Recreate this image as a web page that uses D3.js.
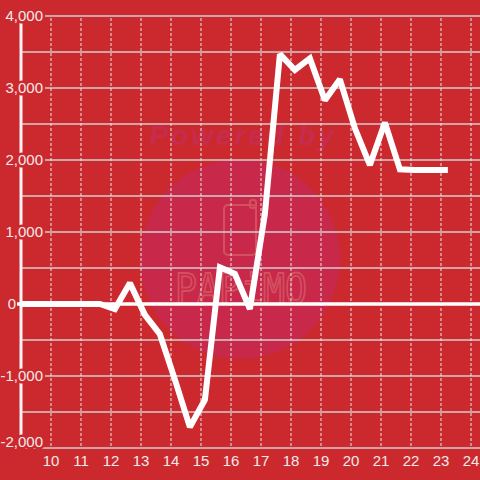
<!DOCTYPE html>
<html><head><meta charset="utf-8">
<script src="https://cdn.jsdelivr.net/npm/d3@7"></script>
<style>html,body{margin:0;padding:0;background:#cc292e;} svg{display:block}</style>
</head><body>
<script>
const hours = [9.13, 9.63, 10.13, 10.63, 11.13, 11.63, 12.13, 12.63, 13.13, 13.63, 14.13, 14.63, 15.13, 15.63, 16.13, 16.63, 17.13, 17.63, 18.13, 18.63, 19.13, 19.63, 20.13, 20.63, 21.13, 21.63, 22.13, 22.63, 23.13];
const values = [0, 0, 0, 0, 0, 0, -70, 290, -150, -420, -1050, -1710, -1330, 510, 420, -70, 1250, 3470, 3250, 3410, 2830, 3120, 2440, 1930, 2520, 1870, 1860, 1860, 1860];
const xTicks = [10, 11, 12, 13, 14, 15, 16, 17, 18, 19, 20, 21, 22, 23, 24];
const yTicks = [-2000, -1000, 1000, 2000, 3000, 4000];
const yGrid = [-2000, -1500, -1000, -500, 0, 500, 1000, 1500, 2000, 2500, 3000, 3500, 4000];

const W = 480, H = 480;
const bg = "#cc292e";
const svg = d3.select("body").append("svg").attr("width", W).attr("height", H);
svg.append("rect").attr("width", W).attr("height", H).attr("fill", bg);

const x = d3.scaleLinear().domain([9, 24.3]).range([21, 480]);
const y = d3.scaleLinear().domain([-2000, 4000]).range([448, 16]);

// watermark
const wm = svg.append("g");
wm.append("text").attr("x", 243).attr("y", 145).attr("text-anchor", "middle")
  .attr("font-family", "Liberation Sans, Arial, sans-serif").attr("font-weight", "bold")
  .attr("font-style", "italic").attr("font-size", 28).attr("letter-spacing", 3)
  .attr("fill", "#c62c4e").text("Powered by");
wm.append("circle").attr("cx", 240).attr("cy", 259).attr("r", 100).attr("fill", "#c8284a");
wm.append("rect").attr("x", 224).attr("y", 205).attr("width", 32).attr("height", 50).attr("rx", 4)
  .attr("fill", "none").attr("stroke", "#d4505f").attr("stroke-width", 2);
wm.append("rect").attr("x", 250).attr("y", 200).attr("width", 6).attr("height", 8).attr("rx", 2)
  .attr("fill", "none").attr("stroke", "#d4505f").attr("stroke-width", 2);
wm.append("text").attr("x", 241).attr("y", 303).attr("text-anchor", "middle")
  .attr("font-family", "DejaVu Sans Mono, monospace").attr("font-size", 40)
  .attr("textLength", 132).attr("lengthAdjust", "spacingAndGlyphs")
  .attr("fill", "none").attr("stroke", "#d4505f").attr("stroke-width", 1.8).text("PAPiMO");

// horizontal grid
svg.append("g").selectAll("line").data(yGrid).join("line")
  .attr("x1", 21).attr("x2", W).attr("y1", d => y(d)).attr("y2", d => y(d))
  .attr("stroke", "#cfcfcf").attr("stroke-width", 1.5);
// vertical dashed grid
svg.append("g").selectAll("line").data(xTicks).join("line")
  .attr("x1", d => x(d)).attr("x2", d => x(d)).attr("y1", 18).attr("y2", 446)
  .attr("stroke", "#e8e8e8").attr("stroke-width", 1).attr("stroke-dasharray", "3,2");

// y axis bar
svg.append("line").attr("x1", x(9)).attr("x2", x(9)).attr("y1", y(4000)).attr("y2", y(-2000))
  .attr("stroke", "#f4f4f4").attr("stroke-width", 3);
// zero line
svg.append("line").attr("x1", 17).attr("x2", W).attr("y1", y(0)).attr("y2", y(0))
  .attr("stroke", "#ffffff").attr("stroke-width", 3.5);

// series
const line = d3.line().x((d, i) => x(hours[i])).y(d => y(d));
svg.append("path").datum(values).attr("d", line).attr("fill", "none")
  .attr("stroke", "#ffffff").attr("stroke-width", 6).attr("stroke-linejoin", "miter")
  .attr("stroke-miterlimit", 2).attr("stroke-linecap", "square");

// y labels with halo
const fmt = d3.formatLocale({decimal: ".", thousands: ",", grouping: [3], currency: ["$", ""], minus: "-"}).format(",");
svg.append("g").selectAll("text").data(yTicks).join("text")
  .attr("x", 43).attr("y", d => y(d) - (d === -2000 ? 6 : 0)).attr("dy", "0.36em").attr("text-anchor", "end")
  .attr("font-family", "Liberation Sans, Arial, sans-serif").attr("font-size", 15)
  .attr("fill", "#f3eaea").attr("stroke", bg).attr("stroke-width", 5).attr("paint-order", "stroke")
  .attr("stroke-linejoin", "round").text(d => fmt(d));
// zero label
svg.append("text").attr("x", 16).attr("y", y(0)).attr("dy", "0.36em").attr("text-anchor", "end")
  .attr("font-family", "Liberation Sans, Arial, sans-serif").attr("font-size", 15)
  .attr("fill", "#f3eaea").text(fmt(0));

// x labels
svg.append("g").selectAll("text").data(xTicks).join("text")
  .attr("x", d => x(d)).attr("y", 466).attr("text-anchor", "middle")
  .attr("font-family", "Liberation Sans, Arial, sans-serif").attr("font-size", 15)
  .attr("fill", "#f3eaea").text(d => d);
</script>
</body></html>
